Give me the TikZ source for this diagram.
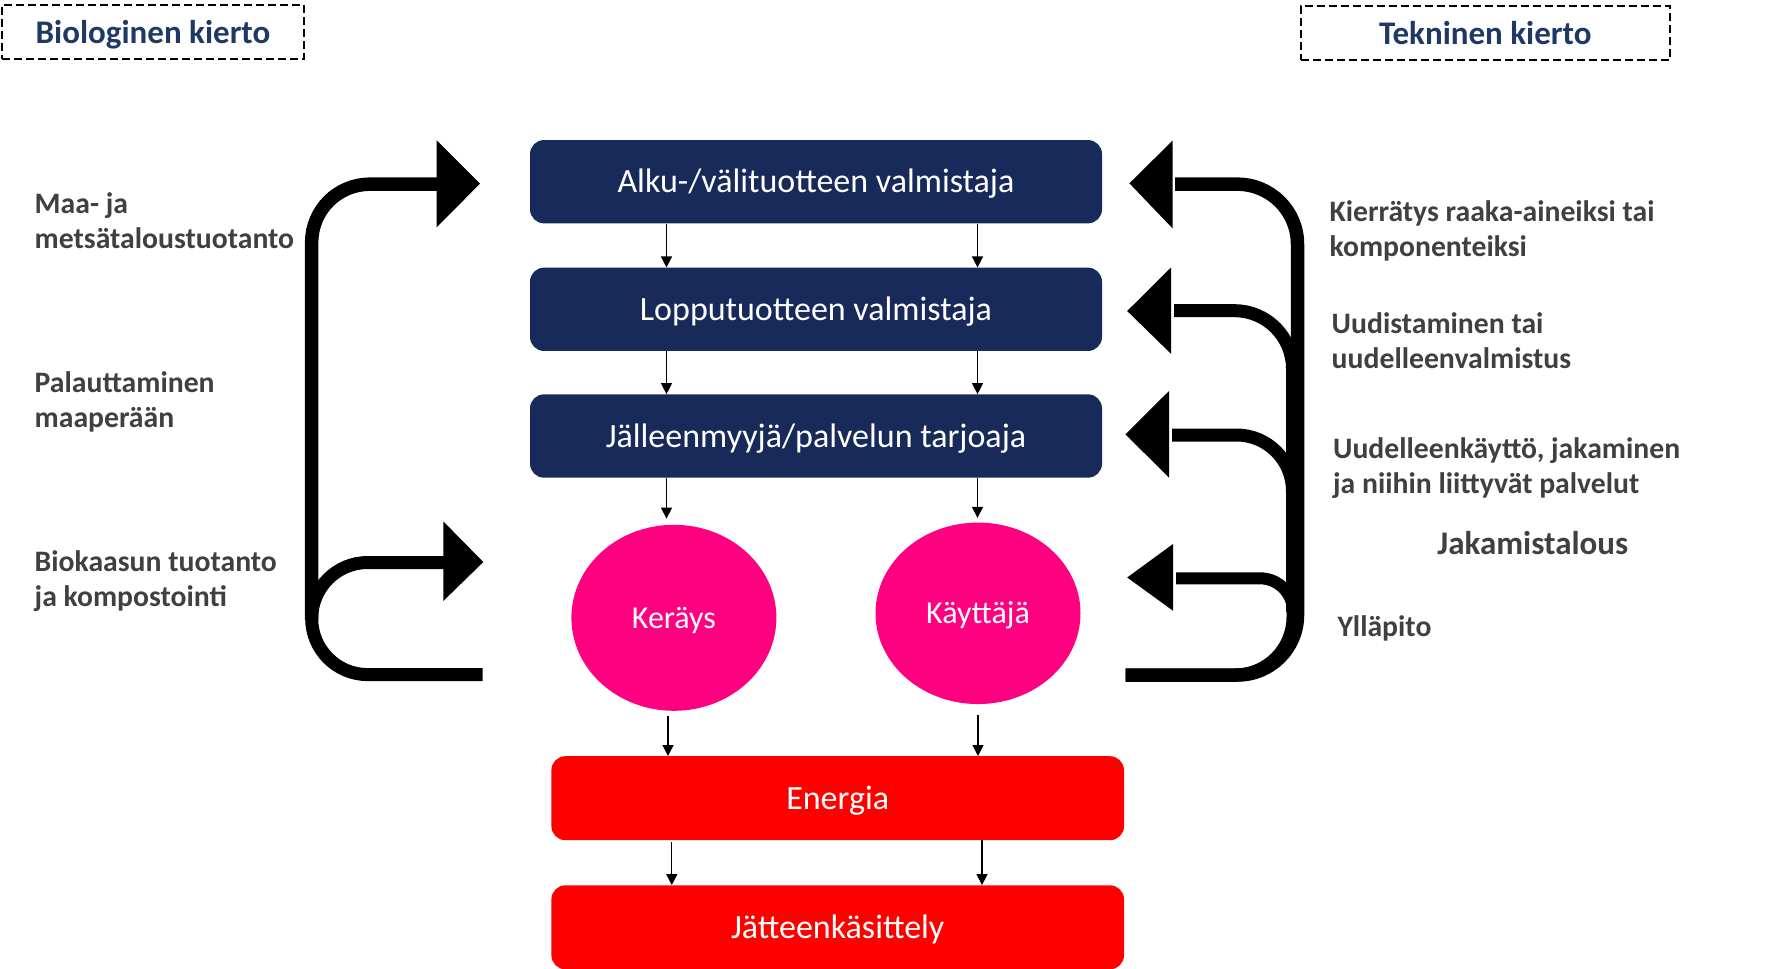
\documentclass[tikz,border=0pt]{standalone}
\usepackage{fontspec}
\setmainfont{Carlito}
\usetikzlibrary{shapes.geometric,arrows.meta}
\definecolor{navy}{HTML}{172A5A}
\definecolor{titleblue}{HTML}{1F3864}
\definecolor{labelgray}{HTML}{404040}
\definecolor{pinkc}{HTML}{FF0080}
\definecolor{redc}{HTML}{FF0000}
\tikzset{
  stagebox/.style={draw=none, fill=navy, rounded corners=14pt, minimum width=572pt, minimum height=83.3pt, inner sep=0pt, text=white, font=\fontsize{34}{40}\selectfont, text height=22pt, text depth=0pt},
  endbox/.style={stagebox, fill=redc, minimum width=572.6pt, minimum height=84pt},
  actor/.style={ellipse, fill=pinkc, inner sep=0pt, minimum width=205pt, text=white, font=\fontsize{32}{38}\selectfont, text height=21pt, text depth=0pt},
  titlebox/.style={draw=black, line width=2pt, dash pattern=on 8pt off 4pt, minimum height=54pt, inner sep=0pt, text=titleblue, font=\bfseries\fontsize{33}{40}\selectfont, text height=22pt, text depth=0pt},
  lbl/.style={anchor=base west, inner sep=0pt, text=labelgray, align=left, font=\bfseries\fontsize{29.7}{35}\selectfont},
  flowarrow/.style={draw=black, line width=1.3pt, -{Triangle[length=11pt,width=11pt]}},
  bigline/.style={draw=black, line width=13.5pt},
}
\begin{document}
\begin{tikzpicture}[x=1pt,y=-1pt]
\useasboundingbox (0,0) rectangle (1789,969);
% titles
\node[titlebox, minimum width=302pt] (bio) at (153,32) {Biologinen kierto};
\node[titlebox, minimum width=369pt] (tek) at (1485.3,33) {Tekninen kierto};
% stages
\node[stagebox] (b1) at (816,181.7) {Alku-/välituotteen valmistaja};
\node[stagebox] (b2) at (816,309.3) {Lopputuotteen valmistaja};
\node[stagebox] (b3) at (816,436) {Jälleenmyyjä/palvelun tarjoaja};
\node[actor, minimum height=186pt] (ker) at (673.9,617.8) {Keräys};
\node[actor, minimum height=181.5pt] (kay) at (978,613.3) {Käyttäjä};
\node[endbox] (en) at (837.7,798.2) {Energia};
\node[endbox] (jat) at (837.7,927.3) {Jätteenkäsittely};
% columns
\coordinate (cA) at (666.5,0);
\coordinate (cB) at (977.5,0);
\coordinate (cC) at (668,0);
\coordinate (cD) at (978,0);
\coordinate (cE) at (671.8,0);
\coordinate (cF) at (982,0);
% flow arrows
\draw[flowarrow] (b1.south -| cA) -- (b2.north -| cA);
\draw[flowarrow] (b1.south -| cB) -- (b2.north -| cB);
\draw[flowarrow] (b2.south -| cA) -- (b3.north -| cA);
\draw[flowarrow] (b2.south -| cB) -- (b3.north -| cB);
\draw[flowarrow, shorten >=6pt] (b3.south -| cA) -- (ker.north -| cA);
\draw[flowarrow, shorten >=4.5pt] (b3.south -| cB) -- (kay.north -| cB);
\draw[flowarrow, shorten <=5pt] (ker.south -| cC) -- (en.north -| cC);
\draw[flowarrow, shorten <=11pt] (kay.south -| cD) -- (en.north -| cD);
\draw[flowarrow, shorten <=2pt] (en.south -| cE) -- (jat.north -| cE);
\draw[flowarrow] (en.south -| cF) -- (jat.north -| cF);
% left loop
\draw[bigline, rounded corners=58pt] (311.7,620) -- (311.7,184.2) -- (440,184.2);
\fill (436.7,140.3) -- (480,183.6) -- (436.7,227.3) -- cycle;
\draw[bigline, line width=13pt, rounded corners=56pt] (482.7,674.6) -- (311.7,674.6) -- (311.7,562.5) -- (446,562.5);
\fill (443.3,521.4) -- (483.3,562) -- (443.3,601) -- cycle;
% right loop
\draw[bigline, line width=13.5pt, rounded corners=60pt] (1125.5,675) -- (1297.5,675) -- (1297.5,184.2) -- (1175,184.2);
\draw[bigline, line width=13pt, rounded corners=58pt] (1125.5,675) -- (1293,675) -- (1293,540);
\fill (1129.4,183.3) -- (1172.5,140.7) -- (1172.5,228.3) -- cycle;
\draw[bigline, line width=13pt, rounded corners=58pt] (1292.5,612) -- (1292.5,310.7) -- (1174,310.7);
\fill (1127.2,311) -- (1171.2,267.3) -- (1171.2,354) -- cycle;
\draw[bigline, line width=13pt, rounded corners=56pt] (1292.5,612) -- (1292.5,435) -- (1172,435);
\fill (1125.5,434.3) -- (1169,391) -- (1169,477.7) -- cycle;
\draw[bigline, line width=12pt, rounded corners=33pt] (1293,612) -- (1293,578.3) -- (1176,578.3);
\fill (1127.2,577.5) -- (1173,544) -- (1173,610.7) -- cycle;
% labels
\node[lbl] (l1) at (34.5,248) {Maa- ja\\metsätaloustuotanto};
\node[lbl] (l2) at (34.5,427) {Palauttaminen\\maaperään};
\node[lbl] (l3) at (34.5,606) {Biokaasun tuotanto\\ja kompostointi};
\node[lbl] (r1) at (1329.4,256.7) {Kierrätys raaka-aineiksi tai\\komponenteiksi};
\node[lbl] (r2) at (1331.5,368.3) {Uudistaminen tai\\uudelleenvalmistus};
\node[lbl] (r3) at (1332.9,493.3) {Uudelleenkäyttö, jakaminen\\ja niihin liittyvät palvelut};
\node[anchor=base, inner sep=0pt, text=labelgray, font=\bfseries\fontsize{33}{40}\selectfont] (jak) at (1532.8,554) {Jakamistalous};
\node[lbl] (r4) at (1337.3,636.7) {Ylläpito};
\end{tikzpicture}
\end{document}
